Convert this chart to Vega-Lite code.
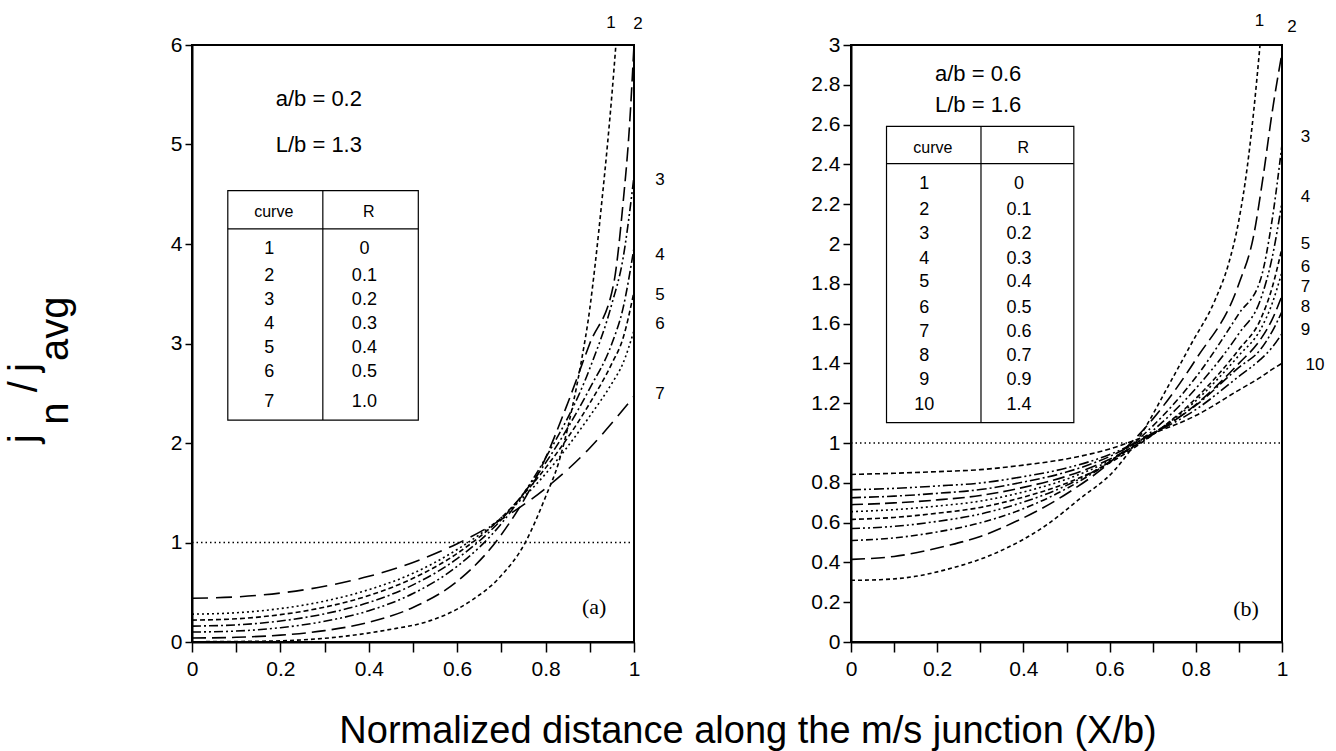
{
  "$schema": "https://vega.github.io/schema/vega-lite/v6.json",
  "background": "white",
  "padding": {"left": 3, "top": 10, "right": 0, "bottom": 0},
  "config": {
    "font": "Liberation Sans",
    "view": {"stroke": "black", "strokeWidth": 2},
    "axis": {"domainColor": "black", "domainWidth": 2, "tickColor": "black", "tickWidth": 1.5, "labelColor": "black", "labelFont": "Liberation Sans", "labelFontSize": 21, "grid": false, "labelFlush": false, "labelOverlap": false, "labelBound": false},
    "text": {"font": "Liberation Sans", "color": "black"}
  },
  "datasets": {
    "refLine": [{"x": 0, "x2": 1, "y": 1, "y2": 1}],
    "curvesA": [
      {"curve": "a1", "x": 0, "y": 0.003}, {"curve": "a1", "x": 0.1, "y": 0.005}, {"curve": "a1", "x": 0.2, "y": 0.012}, {"curve": "a1", "x": 0.33, "y": 0.05}, {"curve": "a1", "x": 0.44, "y": 0.12}, {"curve": "a1", "x": 0.543, "y": 0.22}, {"curve": "a1", "x": 0.6, "y": 0.33}, {"curve": "a1", "x": 0.633, "y": 0.42}, {"curve": "a1", "x": 0.694, "y": 0.64}, {"curve": "a1", "x": 0.754, "y": 1.0}, {"curve": "a1", "x": 0.8, "y": 1.46}, {"curve": "a1", "x": 0.83, "y": 1.81}, {"curve": "a1", "x": 0.86, "y": 2.35}, {"curve": "a1", "x": 0.88, "y": 2.8}, {"curve": "a1", "x": 0.9, "y": 3.35}, {"curve": "a1", "x": 0.912, "y": 3.79}, {"curve": "a1", "x": 0.928, "y": 4.46}, {"curve": "a1", "x": 0.94, "y": 5.0}, {"curve": "a1", "x": 0.95, "y": 5.5}, {"curve": "a1", "x": 0.959, "y": 6.0},
      {"curve": "a2", "x": 0, "y": 0.04}, {"curve": "a2", "x": 0.1, "y": 0.047}, {"curve": "a2", "x": 0.2, "y": 0.069}, {"curve": "a2", "x": 0.3, "y": 0.114}, {"curve": "a2", "x": 0.4, "y": 0.198}, {"curve": "a2", "x": 0.5, "y": 0.347}, {"curve": "a2", "x": 0.6, "y": 0.61}, {"curve": "a2", "x": 0.7, "y": 1.08}, {"curve": "a2", "x": 0.8, "y": 1.85}, {"curve": "a2", "x": 0.85, "y": 2.4}, {"curve": "a2", "x": 0.9, "y": 3.0}, {"curve": "a2", "x": 0.954, "y": 3.6}, {"curve": "a2", "x": 0.975, "y": 4.4}, {"curve": "a2", "x": 0.99, "y": 5.2}, {"curve": "a2", "x": 1.0, "y": 6.0},
      {"curve": "a3", "x": 0, "y": 0.1}, {"curve": "a3", "x": 0.1, "y": 0.11}, {"curve": "a3", "x": 0.2, "y": 0.144}, {"curve": "a3", "x": 0.3, "y": 0.208}, {"curve": "a3", "x": 0.4, "y": 0.314}, {"curve": "a3", "x": 0.5, "y": 0.487}, {"curve": "a3", "x": 0.6, "y": 0.761}, {"curve": "a3", "x": 0.7, "y": 1.19}, {"curve": "a3", "x": 0.8, "y": 1.85}, {"curve": "a3", "x": 0.9, "y": 2.75}, {"curve": "a3", "x": 0.95, "y": 3.4}, {"curve": "a3", "x": 0.975, "y": 3.85}, {"curve": "a3", "x": 1.0, "y": 4.68},
      {"curve": "a4", "x": 0, "y": 0.16}, {"curve": "a4", "x": 0.1, "y": 0.172}, {"curve": "a4", "x": 0.2, "y": 0.211}, {"curve": "a4", "x": 0.3, "y": 0.283}, {"curve": "a4", "x": 0.4, "y": 0.397}, {"curve": "a4", "x": 0.5, "y": 0.574}, {"curve": "a4", "x": 0.6, "y": 0.838}, {"curve": "a4", "x": 0.7, "y": 1.23}, {"curve": "a4", "x": 0.8, "y": 1.8}, {"curve": "a4", "x": 0.9, "y": 2.55}, {"curve": "a4", "x": 0.95, "y": 3.0}, {"curve": "a4", "x": 0.975, "y": 3.35}, {"curve": "a4", "x": 1.0, "y": 3.96},
      {"curve": "a5", "x": 0, "y": 0.22}, {"curve": "a5", "x": 0.1, "y": 0.233}, {"curve": "a5", "x": 0.2, "y": 0.275}, {"curve": "a5", "x": 0.3, "y": 0.35}, {"curve": "a5", "x": 0.4, "y": 0.467}, {"curve": "a5", "x": 0.5, "y": 0.64}, {"curve": "a5", "x": 0.6, "y": 0.89}, {"curve": "a5", "x": 0.7, "y": 1.25}, {"curve": "a5", "x": 0.8, "y": 1.75}, {"curve": "a5", "x": 0.9, "y": 2.4}, {"curve": "a5", "x": 0.95, "y": 2.8}, {"curve": "a5", "x": 0.975, "y": 3.05}, {"curve": "a5", "x": 1.0, "y": 3.52},
      {"curve": "a6", "x": 0, "y": 0.28}, {"curve": "a6", "x": 0.1, "y": 0.294}, {"curve": "a6", "x": 0.2, "y": 0.336}, {"curve": "a6", "x": 0.3, "y": 0.411}, {"curve": "a6", "x": 0.4, "y": 0.526}, {"curve": "a6", "x": 0.5, "y": 0.69}, {"curve": "a6", "x": 0.6, "y": 0.93}, {"curve": "a6", "x": 0.7, "y": 1.25}, {"curve": "a6", "x": 0.8, "y": 1.69}, {"curve": "a6", "x": 0.9, "y": 2.27}, {"curve": "a6", "x": 0.95, "y": 2.6}, {"curve": "a6", "x": 0.975, "y": 2.8}, {"curve": "a6", "x": 1.0, "y": 3.13},
      {"curve": "a7", "x": 0, "y": 0.44}, {"curve": "a7", "x": 0.1, "y": 0.453}, {"curve": "a7", "x": 0.2, "y": 0.492}, {"curve": "a7", "x": 0.3, "y": 0.56}, {"curve": "a7", "x": 0.4, "y": 0.66}, {"curve": "a7", "x": 0.5, "y": 0.8}, {"curve": "a7", "x": 0.6, "y": 0.988}, {"curve": "a7", "x": 0.7, "y": 1.232}, {"curve": "a7", "x": 0.8, "y": 1.545}, {"curve": "a7", "x": 0.9, "y": 1.95}, {"curve": "a7", "x": 0.95, "y": 2.2}, {"curve": "a7", "x": 1.0, "y": 2.47}
    ],
    "curvesB": [
      {"curve": "b1", "x": 0, "y": 0.31}, {"curve": "b1", "x": 0.067, "y": 0.313}, {"curve": "b1", "x": 0.15, "y": 0.33}, {"curve": "b1", "x": 0.223, "y": 0.365}, {"curve": "b1", "x": 0.339, "y": 0.45}, {"curve": "b1", "x": 0.455, "y": 0.59}, {"curve": "b1", "x": 0.531, "y": 0.72}, {"curve": "b1", "x": 0.61, "y": 0.86}, {"curve": "b1", "x": 0.675, "y": 1.05}, {"curve": "b1", "x": 0.737, "y": 1.29}, {"curve": "b1", "x": 0.79, "y": 1.5}, {"curve": "b1", "x": 0.845, "y": 1.72}, {"curve": "b1", "x": 0.876, "y": 1.9}, {"curve": "b1", "x": 0.9, "y": 2.12}, {"curve": "b1", "x": 0.919, "y": 2.38}, {"curve": "b1", "x": 0.934, "y": 2.66}, {"curve": "b1", "x": 0.949, "y": 3.0},
      {"curve": "b2", "x": 0, "y": 0.415}, {"curve": "b2", "x": 0.1, "y": 0.43}, {"curve": "b2", "x": 0.223, "y": 0.484}, {"curve": "b2", "x": 0.3, "y": 0.53}, {"curve": "b2", "x": 0.377, "y": 0.6}, {"curve": "b2", "x": 0.493, "y": 0.735}, {"curve": "b2", "x": 0.61, "y": 0.92}, {"curve": "b2", "x": 0.7, "y": 1.12}, {"curve": "b2", "x": 0.8, "y": 1.42}, {"curve": "b2", "x": 0.9, "y": 1.8}, {"curve": "b2", "x": 0.934, "y": 2.04}, {"curve": "b2", "x": 0.957, "y": 2.35}, {"curve": "b2", "x": 0.977, "y": 2.66}, {"curve": "b2", "x": 1.0, "y": 2.96},
      {"curve": "b3", "x": 0, "y": 0.51}, {"curve": "b3", "x": 0.1, "y": 0.523}, {"curve": "b3", "x": 0.2, "y": 0.553}, {"curve": "b3", "x": 0.3, "y": 0.599}, {"curve": "b3", "x": 0.4, "y": 0.67}, {"curve": "b3", "x": 0.5, "y": 0.771}, {"curve": "b3", "x": 0.6, "y": 0.906}, {"curve": "b3", "x": 0.7, "y": 1.085}, {"curve": "b3", "x": 0.8, "y": 1.33}, {"curve": "b3", "x": 0.9, "y": 1.65}, {"curve": "b3", "x": 0.95, "y": 1.82}, {"curve": "b3", "x": 0.977, "y": 2.12}, {"curve": "b3", "x": 1.0, "y": 2.5},
      {"curve": "b4", "x": 0, "y": 0.57}, {"curve": "b4", "x": 0.1, "y": 0.581}, {"curve": "b4", "x": 0.2, "y": 0.606}, {"curve": "b4", "x": 0.3, "y": 0.643}, {"curve": "b4", "x": 0.4, "y": 0.703}, {"curve": "b4", "x": 0.5, "y": 0.787}, {"curve": "b4", "x": 0.6, "y": 0.905}, {"curve": "b4", "x": 0.7, "y": 1.062}, {"curve": "b4", "x": 0.8, "y": 1.274}, {"curve": "b4", "x": 0.9, "y": 1.55}, {"curve": "b4", "x": 0.95, "y": 1.72}, {"curve": "b4", "x": 0.977, "y": 1.93}, {"curve": "b4", "x": 1.0, "y": 2.21},
      {"curve": "b5", "x": 0, "y": 0.616}, {"curve": "b5", "x": 0.1, "y": 0.626}, {"curve": "b5", "x": 0.2, "y": 0.647}, {"curve": "b5", "x": 0.3, "y": 0.676}, {"curve": "b5", "x": 0.4, "y": 0.728}, {"curve": "b5", "x": 0.5, "y": 0.798}, {"curve": "b5", "x": 0.6, "y": 0.9}, {"curve": "b5", "x": 0.7, "y": 1.042}, {"curve": "b5", "x": 0.8, "y": 1.224}, {"curve": "b5", "x": 0.9, "y": 1.47}, {"curve": "b5", "x": 0.95, "y": 1.62}, {"curve": "b5", "x": 0.977, "y": 1.78}, {"curve": "b5", "x": 1.0, "y": 1.98},
      {"curve": "b6", "x": 0, "y": 0.655}, {"curve": "b6", "x": 0.1, "y": 0.665}, {"curve": "b6", "x": 0.2, "y": 0.683}, {"curve": "b6", "x": 0.3, "y": 0.708}, {"curve": "b6", "x": 0.4, "y": 0.754}, {"curve": "b6", "x": 0.5, "y": 0.818}, {"curve": "b6", "x": 0.6, "y": 0.911}, {"curve": "b6", "x": 0.7, "y": 1.045}, {"curve": "b6", "x": 0.8, "y": 1.212}, {"curve": "b6", "x": 0.9, "y": 1.44}, {"curve": "b6", "x": 0.95, "y": 1.57}, {"curve": "b6", "x": 0.977, "y": 1.7}, {"curve": "b6", "x": 1.0, "y": 1.86},
      {"curve": "b7", "x": 0, "y": 0.69}, {"curve": "b7", "x": 0.1, "y": 0.699}, {"curve": "b7", "x": 0.2, "y": 0.714}, {"curve": "b7", "x": 0.3, "y": 0.736}, {"curve": "b7", "x": 0.4, "y": 0.777}, {"curve": "b7", "x": 0.5, "y": 0.833}, {"curve": "b7", "x": 0.6, "y": 0.918}, {"curve": "b7", "x": 0.7, "y": 1.042}, {"curve": "b7", "x": 0.8, "y": 1.193}, {"curve": "b7", "x": 0.9, "y": 1.4}, {"curve": "b7", "x": 0.95, "y": 1.52}, {"curve": "b7", "x": 0.977, "y": 1.62}, {"curve": "b7", "x": 1.0, "y": 1.74},
      {"curve": "b8", "x": 0, "y": 0.725}, {"curve": "b8", "x": 0.1, "y": 0.733}, {"curve": "b8", "x": 0.2, "y": 0.747}, {"curve": "b8", "x": 0.3, "y": 0.766}, {"curve": "b8", "x": 0.4, "y": 0.804}, {"curve": "b8", "x": 0.5, "y": 0.854}, {"curve": "b8", "x": 0.6, "y": 0.932}, {"curve": "b8", "x": 0.7, "y": 1.049}, {"curve": "b8", "x": 0.8, "y": 1.189}, {"curve": "b8", "x": 0.9, "y": 1.38}, {"curve": "b8", "x": 0.95, "y": 1.47}, {"curve": "b8", "x": 0.977, "y": 1.56}, {"curve": "b8", "x": 1.0, "y": 1.66},
      {"curve": "b9", "x": 0, "y": 0.765}, {"curve": "b9", "x": 0.1, "y": 0.772}, {"curve": "b9", "x": 0.2, "y": 0.784}, {"curve": "b9", "x": 0.3, "y": 0.799}, {"curve": "b9", "x": 0.4, "y": 0.831}, {"curve": "b9", "x": 0.5, "y": 0.874}, {"curve": "b9", "x": 0.6, "y": 0.942}, {"curve": "b9", "x": 0.7, "y": 1.046}, {"curve": "b9", "x": 0.8, "y": 1.168}, {"curve": "b9", "x": 0.9, "y": 1.335}, {"curve": "b9", "x": 0.95, "y": 1.42}, {"curve": "b9", "x": 0.977, "y": 1.48}, {"curve": "b9", "x": 1.0, "y": 1.55},
      {"curve": "b10", "x": 0, "y": 0.842}, {"curve": "b10", "x": 0.1, "y": 0.848}, {"curve": "b10", "x": 0.2, "y": 0.856}, {"curve": "b10", "x": 0.3, "y": 0.866}, {"curve": "b10", "x": 0.4, "y": 0.889}, {"curve": "b10", "x": 0.5, "y": 0.92}, {"curve": "b10", "x": 0.6, "y": 0.97}, {"curve": "b10", "x": 0.7, "y": 1.048}, {"curve": "b10", "x": 0.8, "y": 1.138}, {"curve": "b10", "x": 0.9, "y": 1.266}, {"curve": "b10", "x": 0.95, "y": 1.33}, {"curve": "b10", "x": 0.977, "y": 1.37}, {"curve": "b10", "x": 1.0, "y": 1.4}
    ],
    "boxA": [{"x": 0.081, "x2": 0.512, "y": 2.23, "y2": 4.537}],
    "tlinesA": [{"x": 0.081, "x2": 0.512, "y": 4.152, "y2": 4.152}, {"x": 0.296, "x2": 0.296, "y": 2.23, "y2": 4.537}],
    "theadA": [{"x": 0.185, "y": 4.32, "text": "curve"}, {"x": 0.4, "y": 4.32, "text": "R"}],
    "tbodyA": [
      {"x": 0.175, "y": 3.95, "text": "1"}, {"x": 0.39, "y": 3.95, "text": "0"},
      {"x": 0.175, "y": 3.68, "text": "2"}, {"x": 0.39, "y": 3.68, "text": "0.1"},
      {"x": 0.175, "y": 3.44, "text": "3"}, {"x": 0.39, "y": 3.44, "text": "0.2"},
      {"x": 0.175, "y": 3.2, "text": "4"}, {"x": 0.39, "y": 3.2, "text": "0.3"},
      {"x": 0.175, "y": 2.95, "text": "5"}, {"x": 0.39, "y": 2.95, "text": "0.4"},
      {"x": 0.175, "y": 2.71, "text": "6"}, {"x": 0.39, "y": 2.71, "text": "0.5"},
      {"x": 0.175, "y": 2.41, "text": "7"}, {"x": 0.39, "y": 2.41, "text": "1.0"}
    ],
    "notesA": [{"x": 0.287, "y": 5.453, "text": "a/b = 0.2"}, {"x": 0.287, "y": 4.99, "text": "L/b = 1.3"}],
    "letterA": [{"x": 0.91, "y": 0.352, "text": "(a)"}],
    "clabA": [
      {"x": 0.948, "y": 6.217, "text": "1"}, {"x": 1.009, "y": 6.207, "text": "2"}, {"x": 1.059, "y": 4.648, "text": "3"}, {"x": 1.059, "y": 3.893, "text": "4"}, {"x": 1.059, "y": 3.491, "text": "5"}, {"x": 1.059, "y": 3.199, "text": "6"}, {"x": 1.059, "y": 2.495, "text": "7"}
    ],
    "ytitle": [
      {"x": -0.3507, "y": 2.042, "text": "j"}, {"x": -0.2805, "y": 2.294, "text": "n"}, {"x": -0.3507, "y": 2.565, "text": "/"}, {"x": -0.3507, "y": 2.757, "text": "j"}, {"x": -0.2805, "y": 3.149, "text": "avg"}
    ],
    "xtitle": [{"x": 1.258, "y": -1.016, "text": "Normalized distance along the m/s junction (X/b)"}],
    "boxB": [{"x": 0.0824, "x2": 0.517, "y": 1.102, "y2": 2.591}],
    "tlinesB": [{"x": 0.0824, "x2": 0.517, "y": 2.404, "y2": 2.404}, {"x": 0.3016, "x2": 0.3016, "y": 1.102, "y2": 2.591}],
    "theadB": [{"x": 0.19, "y": 2.484, "text": "curve"}, {"x": 0.4, "y": 2.484, "text": "R"}],
    "tbodyB": [
      {"x": 0.17, "y": 2.303, "text": "1"}, {"x": 0.39, "y": 2.303, "text": "0"},
      {"x": 0.17, "y": 2.169, "text": "2"}, {"x": 0.39, "y": 2.169, "text": "0.1"},
      {"x": 0.17, "y": 2.052, "text": "3"}, {"x": 0.39, "y": 2.052, "text": "0.2"},
      {"x": 0.17, "y": 1.926, "text": "4"}, {"x": 0.39, "y": 1.926, "text": "0.3"},
      {"x": 0.17, "y": 1.809, "text": "5"}, {"x": 0.39, "y": 1.809, "text": "0.4"},
      {"x": 0.17, "y": 1.677, "text": "6"}, {"x": 0.39, "y": 1.677, "text": "0.5"},
      {"x": 0.17, "y": 1.556, "text": "7"}, {"x": 0.39, "y": 1.556, "text": "0.6"},
      {"x": 0.17, "y": 1.437, "text": "8"}, {"x": 0.39, "y": 1.437, "text": "0.7"},
      {"x": 0.17, "y": 1.319, "text": "9"}, {"x": 0.39, "y": 1.319, "text": "0.9"},
      {"x": 0.17, "y": 1.189, "text": "10"}, {"x": 0.39, "y": 1.189, "text": "1.4"}
    ],
    "notesB": [{"x": 0.295, "y": 2.856, "text": "a/b = 0.6"}, {"x": 0.295, "y": 2.696, "text": "L/b = 1.6"}],
    "letterB": [{"x": 0.9165, "y": 0.166, "text": "(b)"}],
    "clabB": [
      {"x": 0.948, "y": 3.123, "text": "1"}, {"x": 1.023, "y": 3.09, "text": "2"}, {"x": 1.0545, "y": 2.538, "text": "3"}, {"x": 1.0545, "y": 2.236, "text": "4"}, {"x": 1.0545, "y": 2.001, "text": "5"}, {"x": 1.0545, "y": 1.884, "text": "6"}, {"x": 1.0545, "y": 1.784, "text": "7"}, {"x": 1.0545, "y": 1.683, "text": "8"}, {"x": 1.0545, "y": 1.57, "text": "9"}, {"x": 1.0766, "y": 1.394, "text": "10"}
    ]
  },
  "spacing": 217,
  "bounds": "flush",
  "resolve": {"scale": {"x": "independent", "y": "independent", "strokeDash": "independent"}},
  "hconcat": [
    {
      "width": 442,
      "height": 597,
      "encoding": {
        "x": {"field": "x", "type": "quantitative", "scale": {"domain": [0, 1], "nice": false, "zero": false},
          "axis": {"title": null, "values": [0, 0.1, 0.2, 0.3, 0.4, 0.5, 0.6, 0.7, 0.8, 0.9, 1], "labelExpr": "round(datum.value*10) % 2 == 0 ? toString(round(datum.value*10)/10) : ''", "tickSize": 10, "labelPadding": 6}},
        "y": {"field": "y", "type": "quantitative", "scale": {"domain": [0, 6], "nice": false, "zero": false},
          "axis": {"title": null, "values": [0, 1, 2, 3, 4, 5, 6], "tickSize": 7, "labelPadding": 3}}
      },
      "layer": [
        {"data": {"name": "refLine"}, "mark": {"type": "rule", "color": "black", "strokeWidth": 1.5, "strokeDash": [1.5, 3]}, "encoding": {"x2": {"field": "x2"}, "y2": {"field": "y2"}}},
        {"data": {"name": "curvesA"}, "mark": {"type": "line", "color": "black", "strokeWidth": 1.6, "interpolate": "monotone"},
          "encoding": {"strokeDash": {"field": "curve", "type": "nominal", "legend": null,
            "scale": {"domain": ["a1", "a2", "a3", "a4", "a5", "a6", "a7"], "range": [[4, 3], [14, 6], [9, 3, 2, 3, 2, 3], [9, 3, 2, 3], [5, 3], [2, 3], [16, 8]]}}}},
        {"data": {"name": "boxA"}, "mark": {"type": "rect", "fill": "white", "stroke": "black", "strokeWidth": 1.2}, "encoding": {"x2": {"field": "x2"}, "y2": {"field": "y2"}}},
        {"data": {"name": "tlinesA"}, "mark": {"type": "rule", "color": "black", "strokeWidth": 1.2}, "encoding": {"x2": {"field": "x2"}, "y2": {"field": "y2"}}},
        {"data": {"name": "theadA"}, "mark": {"type": "text", "fontSize": 16, "align": "center", "baseline": "middle"}, "encoding": {"text": {"field": "text"}}},
        {"data": {"name": "tbodyA"}, "mark": {"type": "text", "fontSize": 18, "align": "center", "baseline": "middle"}, "encoding": {"text": {"field": "text"}}},
        {"data": {"name": "notesA"}, "mark": {"type": "text", "fontSize": 22, "align": "center", "baseline": "middle"}, "encoding": {"text": {"field": "text"}}},
        {"data": {"name": "letterA"}, "mark": {"type": "text", "font": "Liberation Serif", "fontSize": 22, "align": "center", "baseline": "middle"}, "encoding": {"text": {"field": "text"}}},
        {"data": {"name": "clabA"}, "mark": {"type": "text", "fontSize": 17, "align": "center", "baseline": "middle"}, "encoding": {"text": {"field": "text"}}},
        {"data": {"name": "ytitle"}, "mark": {"type": "text", "fontSize": 40, "angle": 270, "align": "center", "baseline": "alphabetic"}, "encoding": {"text": {"field": "text"}}},
        {"data": {"name": "xtitle"}, "mark": {"type": "text", "fontSize": 38, "align": "center", "baseline": "alphabetic"}, "encoding": {"text": {"field": "text"}}}
      ]
    },
    {
      "width": 431,
      "height": 597,
      "encoding": {
        "x": {"field": "x", "type": "quantitative", "scale": {"domain": [0, 1], "nice": false, "zero": false},
          "axis": {"title": null, "values": [0, 0.1, 0.2, 0.3, 0.4, 0.5, 0.6, 0.7, 0.8, 0.9, 1], "labelExpr": "round(datum.value*10) % 2 == 0 ? toString(round(datum.value*10)/10) : ''", "tickSize": 10, "labelPadding": 6}},
        "y": {"field": "y", "type": "quantitative", "scale": {"domain": [0, 3], "nice": false, "zero": false},
          "axis": {"title": null, "values": [0, 0.2, 0.4, 0.6, 0.8, 1, 1.2, 1.4, 1.6, 1.8, 2, 2.2, 2.4, 2.6, 2.8, 3], "labelExpr": "toString(round(datum.value*10)/10)", "tickSize": 8, "labelPadding": 3}}
      },
      "layer": [
        {"data": {"name": "refLine"}, "mark": {"type": "rule", "color": "black", "strokeWidth": 1.5, "strokeDash": [1.5, 3]}, "encoding": {"x2": {"field": "x2"}, "y2": {"field": "y2"}}},
        {"data": {"name": "curvesB"}, "mark": {"type": "line", "color": "black", "strokeWidth": 1.6, "interpolate": "monotone"},
          "encoding": {"strokeDash": {"field": "curve", "type": "nominal", "legend": null,
            "scale": {"domain": ["b1", "b2", "b3", "b4", "b5", "b6", "b7", "b8", "b9", "b10"], "range": [[4, 3], [14, 6], [7, 3, 2, 3], [9, 3, 2, 3, 2, 3], [5, 3], [2, 3], [12, 5], [10, 3, 2, 3], [10, 3, 2, 3, 2, 3], [5, 3]]}}}},
        {"data": {"name": "boxB"}, "mark": {"type": "rect", "fill": "white", "stroke": "black", "strokeWidth": 1.2}, "encoding": {"x2": {"field": "x2"}, "y2": {"field": "y2"}}},
        {"data": {"name": "tlinesB"}, "mark": {"type": "rule", "color": "black", "strokeWidth": 1.2}, "encoding": {"x2": {"field": "x2"}, "y2": {"field": "y2"}}},
        {"data": {"name": "theadB"}, "mark": {"type": "text", "fontSize": 16, "align": "center", "baseline": "middle"}, "encoding": {"text": {"field": "text"}}},
        {"data": {"name": "tbodyB"}, "mark": {"type": "text", "fontSize": 18, "align": "center", "baseline": "middle"}, "encoding": {"text": {"field": "text"}}},
        {"data": {"name": "notesB"}, "mark": {"type": "text", "fontSize": 22, "align": "center", "baseline": "middle"}, "encoding": {"text": {"field": "text"}}},
        {"data": {"name": "letterB"}, "mark": {"type": "text", "font": "Liberation Serif", "fontSize": 22, "align": "center", "baseline": "middle"}, "encoding": {"text": {"field": "text"}}},
        {"data": {"name": "clabB"}, "mark": {"type": "text", "fontSize": 17, "align": "center", "baseline": "middle"}, "encoding": {"text": {"field": "text"}}}
      ]
    }
  ]
}
